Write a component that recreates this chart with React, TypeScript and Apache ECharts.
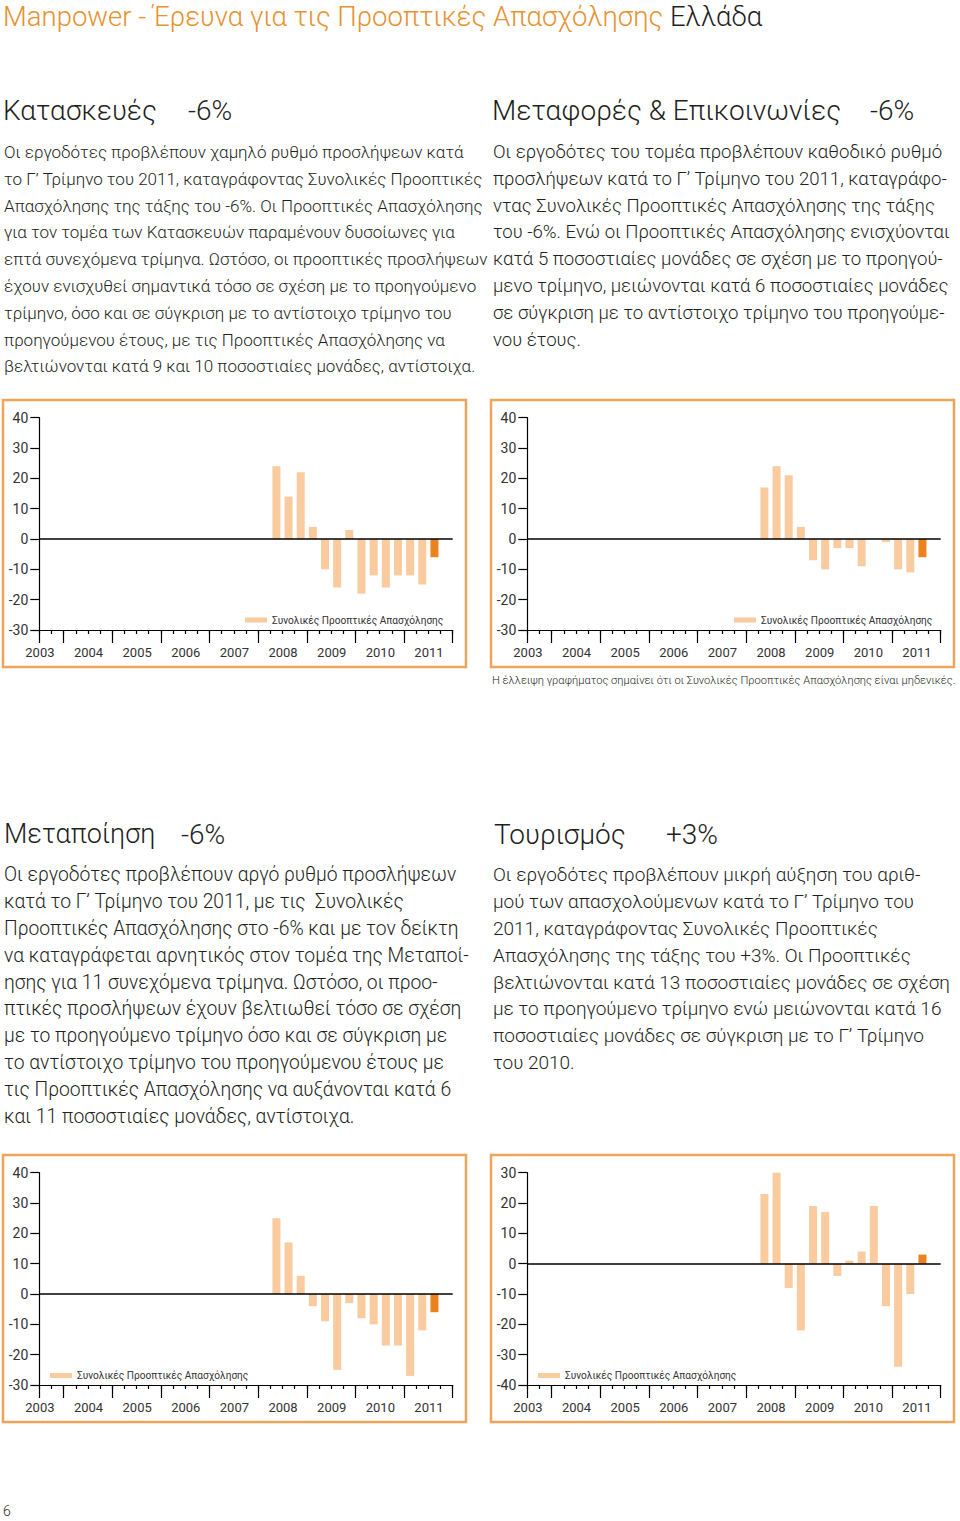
import React, { useEffect, useRef } from "react";
import * as echarts from "echarts";

// ---------- data ----------
const years = ["2003", "2004", "2005", "2006", "2007", "2008", "2009", "2010", "2011"];
const quarterNames = ["Q1", "Q2", "Q3", "Q4"];
const axisStart = "2003 Q3";
const surveyStart = "2008 Q2";
const legendName = "Συνολικές Προοπτικές Απασχόλησης";

const construction = [24, 14, 22, 4, -10, -16, 3, -18, -12, -16, -12, -12, -15, -6];
const transport = [17, 24, 21, 4, -7, -10, -3, -3, -9, 0, -1, -10, -11, -6];
const manufacturing = [25, 17, 6, -4, -9, -25, -3, -8, -10, -17, -17, -27, -12, -6];
const tourism = [23, 30, -8, -22, 19, 17, -4, 1, 4, 19, -14, -34, -10, 3];

const yRangeStd = [-30, 40];
const yRangeTourism = [-40, 30];

const titleMain = "Manpower - Έρευνα για τις Προοπτικές Απασχόλησης";
const titleCountry = "Ελλάδα";

const headings = [
  ["Κατασκευές", "-6%"],
  ["Μεταφορές & Επικοινωνίες", "-6%"],
  ["Μεταποίηση", "-6%"],
  ["Τουρισμός", "+3%"],
];

const para1 = [
  "Οι εργοδότες προβλέπουν χαμηλό ρυθμό προσλήψεων κατά",
  "το Γ’ Τρίμηνο του 2011, καταγράφοντας Συνολικές Προοπτικές",
  "Απασχόλησης της τάξης του -6%. Οι Προοπτικές Απασχόλησης",
  "για τον τομέα των Κατασκευών παραμένουν δυσοίωνες για",
  "επτά συνεχόμενα τρίμηνα. Ωστόσο, οι προοπτικές προσλήψεων",
  "έχουν ενισχυθεί σημαντικά τόσο σε σχέση με το προηγούμενο",
  "τρίμηνο, όσο και σε σύγκριση με το αντίστοιχο τρίμηνο του",
  "προηγούμενου έτους, με τις Προοπτικές Απασχόλησης να",
  "βελτιώνονται κατά 9 και 10 ποσοστιαίες μονάδες, αντίστοιχα.",
];
const para2 = [
  "Οι εργοδότες του τομέα προβλέπουν καθοδικό ρυθμό",
  "προσλήψεων κατά το Γ’ Τρίμηνο του 2011, καταγράφο-",
  "ντας Συνολικές Προοπτικές Απασχόλησης της τάξης",
  "του -6%. Ενώ οι Προοπτικές Απασχόλησης ενισχύονται",
  "κατά 5 ποσοστιαίες μονάδες σε σχέση με το προηγού-",
  "μενο τρίμηνο, μειώνονται κατά 6 ποσοστιαίες μονάδες",
  "σε σύγκριση με το αντίστοιχο τρίμηνο του προηγούμε-",
  "νου έτους.",
];
const para3 = [
  "Οι εργοδότες προβλέπουν αργό ρυθμό προσλήψεων",
  "κατά το Γ’ Τρίμηνο του 2011, με τις  Συνολικές",
  "Προοπτικές Απασχόλησης στο -6% και με τον δείκτη",
  "να καταγράφεται αρνητικός στον τομέα της Μεταποί-",
  "ησης για 11 συνεχόμενα τρίμηνα. Ωστόσο, οι προο-",
  "πτικές προσλήψεων έχουν βελτιωθεί τόσο σε σχέση",
  "με το προηγούμενο τρίμηνο όσο και σε σύγκριση με",
  "το αντίστοιχο τρίμηνο του προηγούμενου έτους με",
  "τις Προοπτικές Απασχόλησης να αυξάνονται κατά 6",
  "και 11 ποσοστιαίες μονάδες, αντίστοιχα.",
];
const para4 = [
  "Οι εργοδότες προβλέπουν μικρή αύξηση του αριθ-",
  "μού των απασχολούμενων κατά το Γ’ Τρίμηνο του",
  "2011, καταγράφοντας Συνολικές Προοπτικές",
  "Απασχόλησης της τάξης του +3%. Οι Προοπτικές",
  "βελτιώνονται κατά 13 ποσοστιαίες μονάδες σε σχέση",
  "με το προηγούμενο τρίμηνο ενώ μειώνονται κατά 16",
  "ποσοστιαίες μονάδες σε σύγκριση με το Γ’ Τρίμηνο",
  "του 2010.",
];
const footnote =
  "Η έλλειψη γραφήματος σημαίνει ότι οι Συνολικές Προοπτικές Απασχόλησης είναι μηδενικές.";
const pageNumber = "6";

// ---------- derived ----------
const allQuarters = years.flatMap((y) => quarterNames.map((q) => `${y} ${q}`));
const quarters = allQuarters.slice(allQuarters.indexOf(axisStart));

const PEACH = "#F9CB9E";
const ORANGE = "#EC8120";
const BORDER = "#F0A458";
const TITLE_ORANGE = "#E8912F";
const INK = "#231F20";
const FONT = "Roboto, 'Liberation Sans', Arial, sans-serif";

function seriesData(values: number[]) {
  const s = quarters.indexOf(surveyStart);
  return quarters.map((_q, i) => {
    const k = i - s;
    if (k < 0 || k >= values.length) return null;
    if (k === values.length - 1) return { value: values[k], itemStyle: { color: ORANGE } };
    return values[k];
  });
}

export default function App() {
  const ref = useRef<HTMLDivElement>(null);

  useEffect(() => {
    document.body.style.margin = "0";
    if (!ref.current) return;
    const chart = echarts.init(ref.current, undefined, { renderer: "svg" });

    const panels = [
      { values: construction, range: yRangeStd, gx: 39.3, gy: 417.7, legend: { left: 245, top: 615 } },
      { values: transport, range: yRangeStd, gx: 527.3, gy: 417.7, legend: { left: 734, top: 615 } },
      { values: manufacturing, range: yRangeStd, gx: 39.3, gy: 1172.7, legend: { left: 50, top: 1370.5 } },
      { values: tourism, range: yRangeTourism, gx: 527.3, gy: 1172.7, legend: { left: 538, top: 1370.5 } },
    ];
    const GW = 413.4;
    const GH = 212.3;
    const black = { color: "#000", width: 1.2 };

    const grid: any[] = [];
    const xAxis: any[] = [];
    const yAxis: any[] = [];
    const series: any[] = [];
    const legend: any[] = [];

    panels.forEach((p, i) => {
      grid.push({ left: p.gx, top: p.gy, width: GW, height: GH, containLabel: false });
      xAxis.push({
        type: "category",
        gridIndex: i,
        data: quarters,
        position: "bottom",
        boundaryGap: true,
        axisLine: { show: true, onZero: false, lineStyle: black },
        axisTick: { show: true, length: 4, interval: 0, lineStyle: black },
        axisLabel: {
          interval: (_idx: number, val: string) => val.endsWith("Q3"),
          formatter: (val: string) => val.slice(0, 4),
          color: "#333",
          fontSize: 13,
          fontFamily: FONT,
          margin: 16,
          padding: [0, 11, 0, 0],
        },
        splitLine: { show: false },
      });
      xAxis.push({
        type: "category",
        gridIndex: i,
        data: quarters,
        position: "bottom",
        boundaryGap: true,
        axisLine: { show: false, onZero: false },
        axisTick: {
          show: true,
          length: 13,
          interval: (idx: number, val: string) => idx === 0 || val.endsWith("Q1"),
          lineStyle: black,
        },
        axisLabel: { show: false },
        splitLine: { show: false },
      });
      yAxis.push({
        type: "value",
        gridIndex: i,
        min: p.range[0],
        max: p.range[1],
        interval: 10,
        axisLine: { show: true, onZero: false, lineStyle: black },
        axisTick: { show: true, length: 9, lineStyle: black },
        axisLabel: { color: "#333", fontSize: 14, fontFamily: FONT, margin: 11 },
        splitLine: { show: false },
      });
      series.push({
        type: "bar",
        name: legendName,
        xAxisIndex: 2 * i,
        yAxisIndex: i,
        data: seriesData(p.values),
        barWidth: 8,
        itemStyle: { color: PEACH },
        markLine: {
          silent: true,
          symbol: ["none", "none"],
          label: { show: false },
          lineStyle: { color: "#000", width: 1.5, type: "solid" },
          data: [{ yAxis: 0 }],
        },
      });
      legend.push({
        data: [legendName],
        left: p.legend.left,
        top: p.legend.top,
        icon: "rect",
        itemWidth: 22,
        itemHeight: 5,
        selectedMode: false,
        padding: 0,
        textStyle: { fontSize: 10.1, color: "#333", fontFamily: FONT },
      });
    });

    const textEl = (x: number, y: number, text: string, size: number, fill = INK) => ({
      type: "text",
      x,
      y,
      silent: true,
      style: {
        text,
        fill,
        fontSize: size,
        fontFamily: FONT,
        fontWeight: 300,
        align: "left",
        verticalAlign: "middle",
      },
    });

    const paraEl = (x: number, yFirst: number, lines: string[], size: number) => ({
      type: "text",
      x,
      y: yFirst - 13.4,
      silent: true,
      style: {
        text: lines.join("\n"),
        fill: INK,
        fontSize: size,
        fontFamily: FONT,
        fontWeight: 300,
        lineHeight: 26.8,
        align: "left",
        verticalAlign: "top",
      },
    });

    const box = (x: number, y: number) => ({
      type: "rect",
      silent: true,
      shape: { x, y, width: 463, height: 267 },
      style: { fill: "none", stroke: BORDER, lineWidth: 2.5 },
    });

    const graphic: any[] = [
      {
        type: "text",
        x: 3,
        y: 2,
        silent: true,
        style: {
          text: `{a|${titleMain}} {b|${titleCountry}}`,
          fontSize: 27.5,
          fontFamily: FONT,
          fontWeight: 300,
          verticalAlign: "top",
          rich: {
            a: { fill: TITLE_ORANGE, fontSize: 27.5, fontFamily: FONT, fontWeight: 300, lineHeight: 28 },
            b: { fill: INK, fontSize: 27.5, fontFamily: FONT, fontWeight: 300, lineHeight: 28 },
          },
        },
      },
      textEl(3, 110, headings[0][0], 28),
      textEl(188, 110, headings[0][1], 28),
      textEl(492, 110, headings[1][0], 28),
      textEl(870, 110, headings[1][1], 28),
      textEl(4, 834, headings[2][0], 27),
      textEl(181, 834, headings[2][1], 28),
      textEl(494, 834, headings[3][0], 28),
      textEl(666, 834, headings[3][1], 28),
      paraEl(4, 152, para1, 17),
      paraEl(493, 152, para2, 18.6),
      paraEl(4, 875, para3, 19.3),
      paraEl(493, 875, para4, 19.0),
      box(3, 400),
      box(491, 400),
      box(3, 1155),
      box(491, 1155),
      textEl(492, 680, footnote, 11.1),
      textEl(3, 1511, pageNumber, 14),
    ];

    chart.setOption({
      animation: false,
      backgroundColor: "#fff",
      grid,
      xAxis,
      yAxis,
      series,
      legend,
      graphic,
    });

    return () => chart.dispose();
  }, []);

  return (
    <div
      ref={ref}
      style={{ position: "absolute", left: 0, top: 0, width: 960, height: 1521 }}
    />
  );
}
